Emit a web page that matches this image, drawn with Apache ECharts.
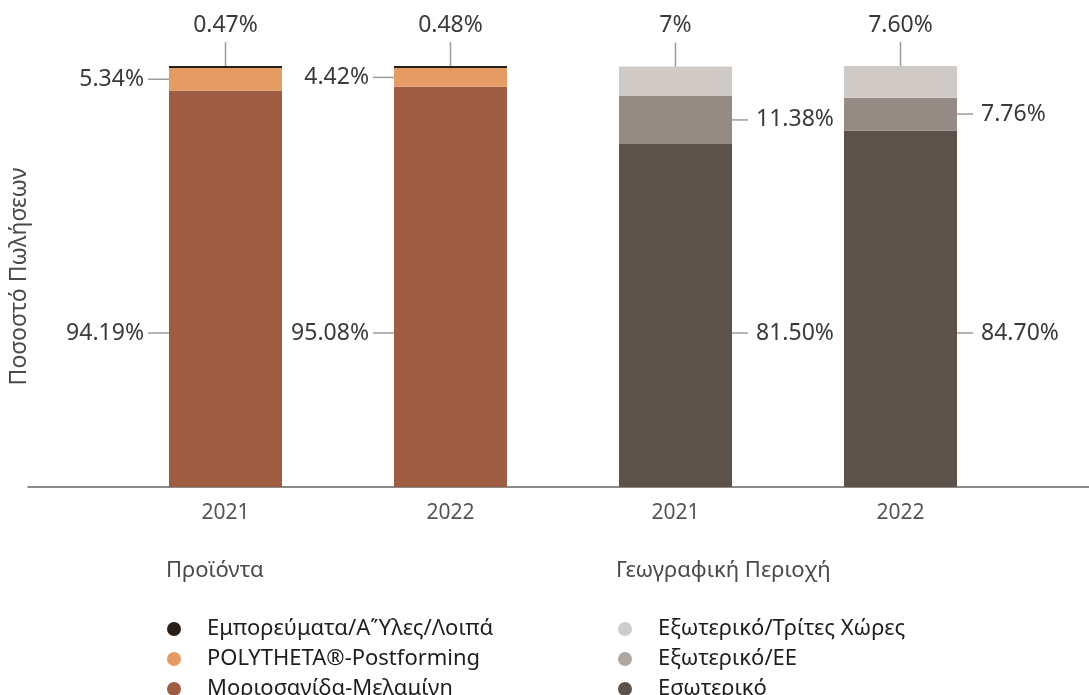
<!DOCTYPE html>
<html>
<head>
<meta charset="utf-8">
<script src="https://cdn.jsdelivr.net/npm/echarts@6/dist/echarts.min.js"></script>
<style>
  html, body { margin: 0; padding: 0; background: #fff; }
  #chart { width: 1089px; height: 695px; }
</style>
</head>
<body>
<div id="chart"></div>
<script>
var years = ['2021', '2022', '2021', '2022']

// Προϊόντα (first two bars)
var merchandise = ['0.47', '0.48', '-', '-']
var postforming = ['5.34', '4.42', '-', '-']
var chipboard = ['94.19', '95.08', '-', '-']

// Γεωγραφική Περιοχή (last two bars)
var thirdCountries = ['-', '-', '7', '7.60']
var euCountries = ['-', '-', '11.38', '7.76']
var domestic = ['-', '-', '81.50', '84.70']

var font = 'Noto Sans'
var textColor = '#3a3a3a'
var leaderColor = '#9b9b9b'

// label with a small leader line made from a rich text token
function labelFor(raw, side) {
  var label = {
    show: true,
    fontFamily: font,
    fontSize: 23,
    color: textColor,
    distance: 0,
    rich: {
      t: { fontFamily: font, fontSize: 23, color: textColor },
      g: { backgroundColor: leaderColor }
    }
  }
  if (side === 'top') {
    label.position = 'top'
    label.rich.t.lineHeight = 34
    label.rich.g.width = 1.5
    label.rich.g.height = 24
    label.rich.g.lineHeight = 24
    label.formatter = function (p) {
      return '{t|' + raw[p.dataIndex] + '%}\n{g|}'
    }
  } else if (side === 'left') {
    label.position = 'left'
    label.rich.t.padding = [0, 4, 0, 0]
    label.rich.g.width = 21
    label.rich.g.height = 1.5
    label.formatter = function (p) {
      return '{t|' + raw[p.dataIndex] + '%}{g|}'
    }
  } else {
    label.position = 'right'
    label.rich.t.padding = [0, 0, 0, 8]
    label.rich.g.width = 16
    label.rich.g.height = 1.5
    label.formatter = function (p) {
      return '{g|}{t|' + raw[p.dataIndex] + '%}'
    }
  }
  return label
}

function makeSeries(name, raw, color, side, fixedY) {
  var s = {
    name: name,
    type: 'bar',
    stack: 'total',
    barWidth: 113,
    data: raw,
    itemStyle: { color: color },
    label: labelFor(raw, side)
  }
  if (fixedY) {
    // bottom segments: labels sit on one common line
    s.labelLayout = function (p) {
      var onLeft = side === 'left'
      return {
        x: onLeft ? p.rect.x : p.rect.x + p.rect.width,
        y: fixedY,
        align: onLeft ? 'right' : 'left',
        verticalAlign: 'middle'
      }
    }
  }
  return s
}

var legendText = { fontFamily: font, fontSize: 22, lineHeight: 18, color: '#1e1e1e', padding: [0, 0, 0, 21] }
var titleText = { fontFamily: font, fontWeight: 'normal', fontSize: 22, color: '#4a4a4a' }

var chart = echarts.init(document.getElementById('chart'))

chart.setOption({
  animation: false,
  textStyle: { fontFamily: font },
  title: [
    { text: 'Προϊόντα', left: 166, top: 560, padding: 0, textStyle: titleText },
    { text: 'Γεωγραφική Περιοχή', left: 616, top: 560, padding: 0, textStyle: titleText }
  ],
  legend: [
    {
      data: ['Εμπορεύματα/Α΄Ύλες/Λοιπά', 'POLYTHETA®-Postforming', 'Μοριοσανίδα-Μελαμίνη'],
      orient: 'vertical',
      left: 167,
      top: 618,
      height: 120,
      padding: 0,
      icon: 'circle',
      itemWidth: 14,
      itemHeight: 14,
      itemGap: 8,
      selectedMode: false,
      textStyle: legendText
    },
    {
      data: [
        { name: 'Εξωτερικό/Τρίτες Χώρες', itemStyle: { color: '#d0ccc9' } },
        { name: 'Εξωτερικό/ΕΕ', itemStyle: { color: '#aea7a2' } },
        'Εσωτερικό'
      ],
      orient: 'vertical',
      left: 618,
      top: 618,
      height: 120,
      padding: 0,
      icon: 'circle',
      itemWidth: 14,
      itemHeight: 14,
      itemGap: 8,
      selectedMode: false,
      textStyle: legendText
    }
  ],
  grid: [
    { left: 111, right: 76, top: 66, bottom: 208 },
    { left: 28, right: 0, top: 66, bottom: 208 }
  ],
  xAxis: [
    {
      type: 'category',
      data: years,
      gridIndex: 0,
      axisLine: { show: false },
      axisTick: { show: false },
      axisLabel: { fontFamily: font, fontSize: 21, color: '#555', margin: 16 }
    },
    {
      type: 'category',
      data: [],
      gridIndex: 1,
      axisLine: { show: true, lineStyle: { color: '#666', width: 1.5 } },
      axisTick: { show: false },
      axisLabel: { show: false }
    }
  ],
  yAxis: [
    {
      type: 'value',
      gridIndex: 0,
      min: 0,
      max: 100,
      name: 'Ποσοστό Πωλήσεων',
      nameLocation: 'middle',
      nameGap: 82,
      nameTextStyle: { fontFamily: font, fontSize: 23, color: '#4a4a4a' },
      axisLine: { show: false },
      axisTick: { show: false },
      axisLabel: { show: false },
      splitLine: { show: false }
    },
    { type: 'value', gridIndex: 1, show: false }
  ],
  series: [
    makeSeries('Μοριοσανίδα-Μελαμίνη', chipboard, '#9e5c42', 'left', 333),
    makeSeries('POLYTHETA®-Postforming', postforming, '#e69b64', 'left'),
    makeSeries('Εμπορεύματα/Α΄Ύλες/Λοιπά', merchandise, '#2a1f17', 'top'),
    makeSeries('Εσωτερικό', domestic, '#5c5249', 'right', 333),
    makeSeries('Εξωτερικό/ΕΕ', euCountries, '#968b84', 'right'),
    makeSeries('Εξωτερικό/Τρίτες Χώρες', thirdCountries, '#cfcac6', 'top')
  ]
})
</script>
</body>
</html>
